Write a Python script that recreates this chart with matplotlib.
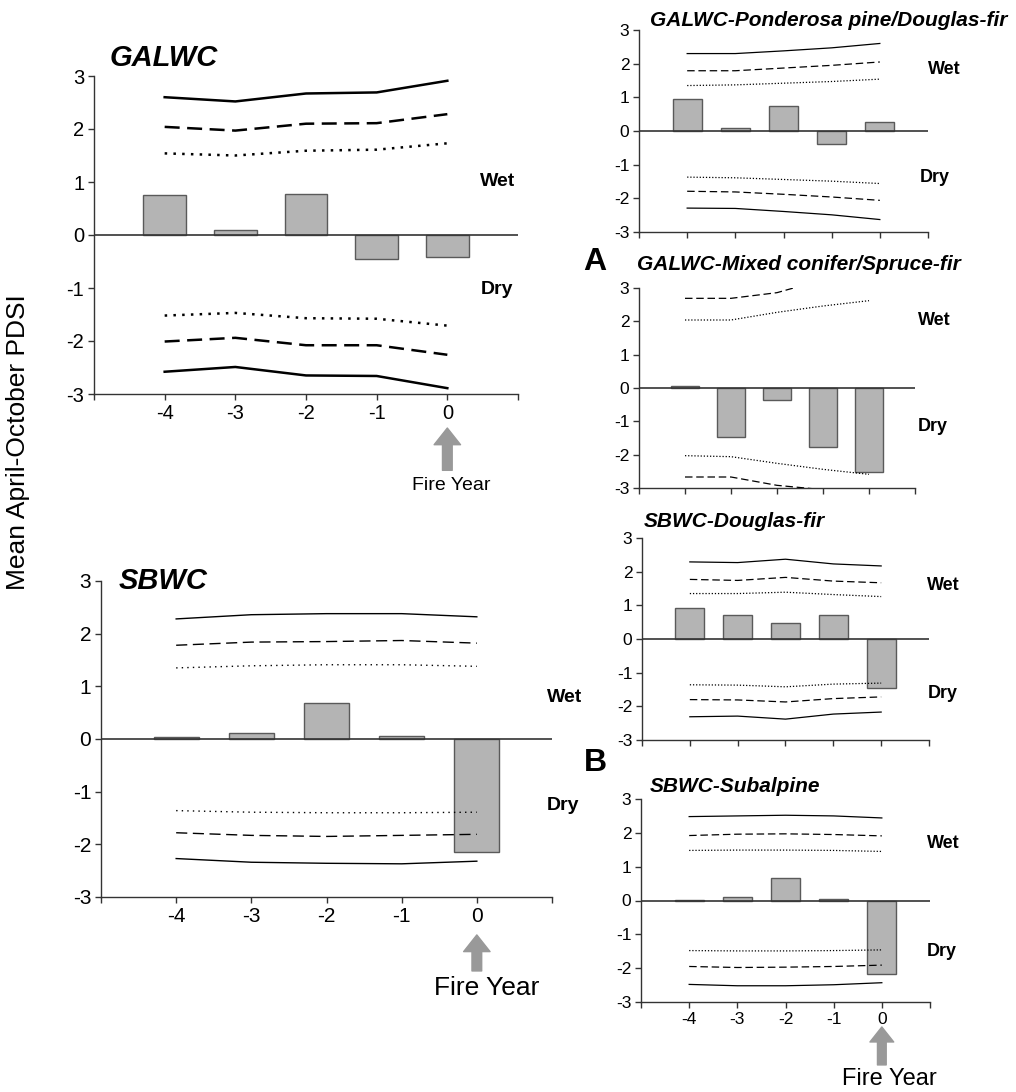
import matplotlib
matplotlib.use("Agg")
import matplotlib.pyplot as plt

plt.rcParams["font.family"] = ["Liberation Sans", "DejaVu Sans"]

W, H = 1016, 1092

years = [-4, -3, -2, -1, 0]

# GALWC (left top)
galwc_bars = [0.75, 0.10, 0.77, -0.46, -0.41]
galwc_wet = [[2.60, 2.52, 2.67, 2.69, 2.91],
             [2.04, 1.97, 2.10, 2.11, 2.28],
             [1.54, 1.50, 1.59, 1.61, 1.73]]
galwc_dry = [[-2.58, -2.49, -2.65, -2.66, -2.89],
             [-2.01, -1.94, -2.08, -2.08, -2.26],
             [-1.52, -1.47, -1.57, -1.58, -1.71]]

# SBWC (left bottom)
sbwc_bars = [0.03, 0.11, 0.68, 0.05, -2.15]
sbwc_wet = [[2.28, 2.36, 2.38, 2.38, 2.32],
            [1.78, 1.84, 1.85, 1.87, 1.82],
            [1.35, 1.39, 1.41, 1.41, 1.38]]
sbwc_dry = [[-2.27, -2.34, -2.36, -2.37, -2.32],
            [-1.78, -1.83, -1.85, -1.83, -1.81],
            [-1.36, -1.39, -1.40, -1.40, -1.39]]

# GALWC-Ponderosa pine/Douglas-fir
pp_bars = [0.96, 0.10, 0.73, -0.40, 0.27]
pp_wet = [[2.30, 2.30, 2.38, 2.47, 2.60],
          [1.79, 1.79, 1.87, 1.95, 2.05],
          [1.35, 1.37, 1.42, 1.47, 1.54]]
pp_dry = [[-2.29, -2.30, -2.39, -2.49, -2.63],
          [-1.79, -1.81, -1.88, -1.96, -2.06],
          [-1.37, -1.39, -1.44, -1.49, -1.56]]

# GALWC-Mixed conifer/Spruce-fir (outer lines run off the axis)
mc_bars = [0.06, -1.47, -0.36, -1.76, -2.53]
mc_wet = [[None] * 5,
          [2.69, 2.69, 2.86, 3.25, 3.55],
          [2.04, 2.04, 2.27, 2.46, 2.62]]
mc_dry = [[None] * 5,
          [-2.67, -2.67, -2.92, -3.05, -3.40],
          [-2.03, -2.06, -2.26, -2.44, -2.59]]

# SBWC-Douglas-fir
df_bars = [0.91, 0.71, 0.48, 0.70, -1.46]
df_wet = [[2.29, 2.27, 2.37, 2.23, 2.17],
          [1.77, 1.74, 1.83, 1.72, 1.67],
          [1.35, 1.35, 1.39, 1.32, 1.26]]
df_dry = [[-2.31, -2.29, -2.38, -2.23, -2.17],
          [-1.80, -1.81, -1.87, -1.77, -1.72],
          [-1.36, -1.37, -1.42, -1.34, -1.31]]

# SBWC-Subalpine
sa_bars = [0.02, 0.10, 0.67, 0.05, -2.17]
sa_wet = [[2.48, 2.50, 2.52, 2.50, 2.44],
          [1.92, 1.96, 1.97, 1.95, 1.91],
          [1.48, 1.49, 1.49, 1.48, 1.45]]
sa_dry = [[-2.48, -2.52, -2.52, -2.49, -2.43],
          [-1.95, -1.98, -1.97, -1.95, -1.91],
          [-1.48, -1.49, -1.49, -1.48, -1.46]]

yticks = [3, 2, 1, 0, -1, -2, -3]


def px_axes(x0, x1, top, bottom):
    return [x0 / W, 1 - bottom / H, (x1 - x0) / W, (bottom - top) / H]


def ftext(x, y, s, **kw):
    fig.text(x / W, 1 - y / H, s, **kw)


def draw_panel(ax, bars, wet, dry, lw, tick_fs, xlabels, dash, dot):
    ax.bar(years, bars, width=0.6, color="#b4b4b4", edgecolor="#5a5a5a",
           linewidth=1.0, zorder=2)
    styles = ["-", dash, dot]
    for grp in (wet, dry):
        for vals, ls in zip(grp, styles):
            if vals[0] is None:
                continue
            ax.plot(years, vals, color="black", linestyle=ls, linewidth=lw,
                    zorder=3)
    ax.axhline(0, color="#333333", linewidth=1.2, zorder=4)
    ax.set_xlim(-5, 1)
    ax.set_ylim(-3, 3)
    ax.set_yticks(yticks)
    ax.set_yticklabels([str(t) for t in yticks], fontsize=tick_fs)
    ax.set_xticks(range(-5, 2))
    if xlabels:
        ax.set_xticklabels([""] + [str(y) for y in years] + [""], fontsize=tick_fs)
    else:
        ax.set_xticklabels([])
    for s in ("top", "right"):
        ax.spines[s].set_visible(False)
    for s in ("left", "bottom"):
        ax.spines[s].set_color("#333333")
        ax.spines[s].set_linewidth(1.0)
    ax.tick_params(direction="out", length=4, width=1.0, color="#333333",
                   pad=3)


def fire_arrow(ax, tip, tail, text_x, text_y, fs, scale):
    ax.annotate("", xy=(0, tip), xytext=(0, tail),
                xycoords=("data", "axes fraction"),
                textcoords=("data", "axes fraction"),
                arrowprops=dict(arrowstyle="simple,head_width=1.9,head_length=1.2,tail_width=0.7",
                                color="#999999", shrinkA=0, shrinkB=0,
                                mutation_scale=scale),
                annotation_clip=False)
    ax.annotate("Fire Year", xy=(text_x, text_y), xycoords=("data", "axes fraction"),
                ha="center", va="top", fontsize=fs, annotation_clip=False)


fig = plt.figure(figsize=(W / 100, H / 100), dpi=100)

ax1 = fig.add_axes(px_axes(94, 518, 76, 394))
draw_panel(ax1, galwc_bars, galwc_wet, galwc_dry, 1.8, 14.5, True,
           (0, (6, 3)), (0, (1, 2.5)))
fire_arrow(ax1, -0.107, -0.24, 0.05, -0.262, 14, 10)

ax2 = fig.add_axes(px_axes(101, 552, 581, 897))
draw_panel(ax2, sbwc_bars, sbwc_wet, sbwc_dry, 1.0, 15, True,
           (0, (8, 4)), (0, (1, 3)))
fire_arrow(ax2, -0.120, -0.234, 0.13, -0.25, 19, 10)

ax3 = fig.add_axes(px_axes(639, 928, 30, 232))
draw_panel(ax3, pp_bars, pp_wet, pp_dry, 0.9, 12.5, False,
           (0, (6, 3)), (0, (1, 1.5)))

ax4 = fig.add_axes(px_axes(639, 915, 288, 488))
draw_panel(ax4, mc_bars, mc_wet, mc_dry, 0.9, 12.5, False,
           (0, (6, 3)), (0, (1, 1.5)))

ax5 = fig.add_axes(px_axes(642, 929, 538, 740))
draw_panel(ax5, df_bars, df_wet, df_dry, 0.9, 12.5, False,
           (0, (6, 3)), (0, (1, 1.5)))

ax6 = fig.add_axes(px_axes(641, 930, 799, 1002))
draw_panel(ax6, sa_bars, sa_wet, sa_dry, 0.9, 12.5, True,
           (0, (6, 3)), (0, (1, 1.5)))
fire_arrow(ax6, -0.123, -0.31, 0.15, -0.325, 17, 9)

# panel titles
ftext(110, 58, "GALWC", fontsize=21, fontweight="bold", style="italic", va="center")
ftext(119, 581, "SBWC", fontsize=21, fontweight="bold", style="italic", va="center")
ftext(650, 21, "GALWC-Ponderosa pine/Douglas-fir", fontsize=15,
      fontweight="bold", style="italic", va="center")
ftext(637, 265, "GALWC-Mixed conifer/Spruce-fir", fontsize=15,
      fontweight="bold", style="italic", va="center")
ftext(644, 521, "SBWC-Douglas-fir", fontsize=15,
      fontweight="bold", style="italic", va="center")
ftext(650, 787, "SBWC-Subalpine", fontsize=15,
      fontweight="bold", style="italic", va="center")

# wet / dry labels
for x, y, s, fs in [(480, 182, "Wet", 14), (481, 290, "Dry", 14),
                    (547, 697, "Wet", 14), (547, 805, "Dry", 14),
                    (928, 70, "Wet", 13), (920, 178, "Dry", 13),
                    (918, 320, "Wet", 13), (918, 427, "Dry", 13),
                    (927, 586, "Wet", 13), (928, 693, "Dry", 13),
                    (927, 843, "Wet", 13), (927, 952, "Dry", 13)]:
    ftext(x, y, s, fontsize=fs, fontweight="bold", va="center")

ftext(595, 262, "A", fontsize=23, fontweight="bold", ha="center", va="center")
ftext(595, 763, "B", fontsize=23, fontweight="bold", ha="center", va="center")

ftext(18, 442, "Mean April-October PDSI", fontsize=19, rotation=90,
      ha="center", va="center")

fig.savefig("out.png", dpi=100)
